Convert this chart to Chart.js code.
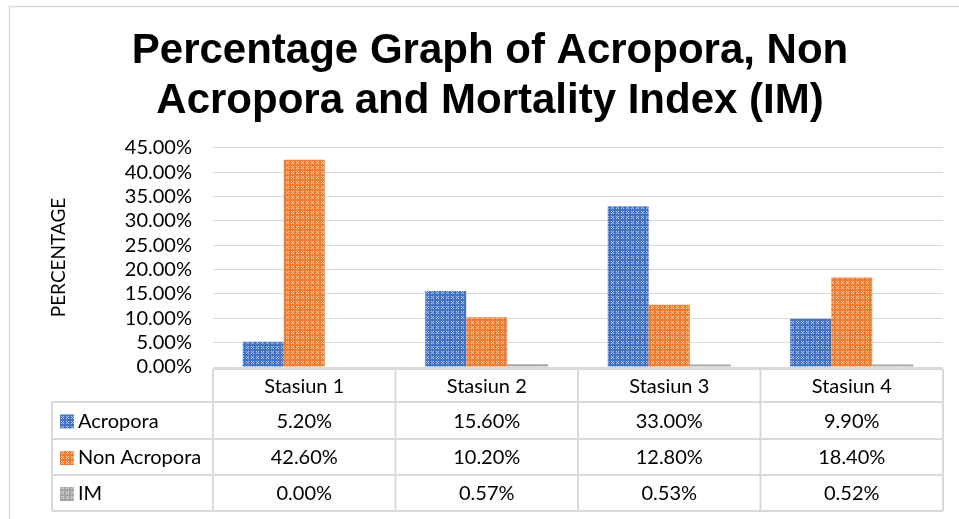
<!DOCTYPE html>
<html>
<head>
<meta charset="utf-8">
<script src="https://cdn.jsdelivr.net/npm/chart.js@4.4.1/dist/chart.umd.min.js"></script>
<style>
  html, body { margin: 0; padding: 0; background: #fff; }
</style>
</head>
<body>
<canvas id="chart" width="959" height="519"></canvas>
<script>
// Chart data
const categories = ['Stasiun 1', 'Stasiun 2', 'Stasiun 3', 'Stasiun 4'];
const seriesNames = ['Acropora', 'Non Acropora', 'IM'];
const acropora = [5.20, 15.60, 33.00, 9.90];
const nonAcropora = [42.60, 10.20, 12.80, 18.40];
const im = [0.00, 0.57, 0.53, 0.52];
const yMax = 45;
const yStep = 5;

const seriesColors = ['#4472c4', '#ed7d31', '#a5a5a5'];
const lineGray = '#d9d9d9';
const textFont = 'Lato, "Noto Sans", sans-serif';

// small plaid fill like the excel pattern
function makePattern(color) {
    const tile = document.createElement('canvas');
    tile.width = 5;
    tile.height = 5;
    const t = tile.getContext('2d');
    t.fillStyle = color;
    t.fillRect(0, 0, 5, 5);
    t.fillStyle = 'rgba(255,255,255,0.6)';
    [[1, 1], [3, 1], [2, 2], [1, 3], [3, 3]].forEach(p => t.fillRect(p[0], p[1], 1, 1));
    return t.createPattern(tile, 'repeat');
}
const fills = seriesColors.map(makePattern);

function pct(v) {
    return v.toFixed(2) + '%';
}

// outer frame of the chart box
const framePlugin = {
    id: 'frame',
    beforeDraw(chart) {
        const ctx = chart.ctx;
        ctx.save();
        ctx.strokeStyle = lineGray;
        ctx.lineWidth = 1.5;
        ctx.beginPath();
        ctx.moveTo(9.5, 519);
        ctx.lineTo(9.5, 6.5);
        ctx.lineTo(959, 6.5);
        ctx.stroke();
        ctx.restore();
    }
};

// data table under the plot, columns follow the x scale
const tablePlugin = {
    id: 'dataTable',
    afterDraw(chart) {
        const ctx = chart.ctx;
        const area = chart.chartArea;
        const xs = chart.scales.x;
        const colW = (area.right - area.left) / categories.length;
        const tableLeft = 52;
        const top = area.bottom + 2;
        const rows = [top, top + 33, top + 70, top + 106, top + 142];

        ctx.save();
        ctx.strokeStyle = lineGray;
        ctx.lineWidth = 2;
        ctx.beginPath();
        // header row (no cell over the label column)
        ctx.moveTo(area.left, rows[0]);
        ctx.lineTo(area.right, rows[0]);
        for (let r = 1; r < rows.length; r++) {
            ctx.moveTo(tableLeft, rows[r]);
            ctx.lineTo(area.right, rows[r]);
        }
        ctx.moveTo(tableLeft, rows[1]);
        ctx.lineTo(tableLeft, rows[4]);
        for (let i = 0; i <= categories.length; i++) {
            const x = area.left + i * colW;
            ctx.moveTo(x, rows[0]);
            ctx.lineTo(x, rows[4]);
        }
        ctx.stroke();

        ctx.fillStyle = '#000';
        ctx.font = '20px ' + textFont;
        ctx.textAlign = 'center';
        ctx.textBaseline = 'middle';
        categories.forEach((c, i) => {
            ctx.fillText(c, xs.getPixelForValue(i), (rows[0] + rows[1]) / 2 + 1);
        });

        chart.data.datasets.forEach((ds, r) => {
            const cy = (rows[r + 1] + rows[r + 2]) / 2 + 1;
            ctx.fillStyle = ds.backgroundColor;
            ctx.fillRect(60, cy - 7, 14, 14);
            ctx.fillStyle = '#000';
            ctx.textAlign = 'left';
            ctx.fillText(ds.label, 78, cy);
            ctx.textAlign = 'center';
            ds.data.forEach((v, i) => {
                ctx.fillText(pct(v), xs.getPixelForValue(i), cy);
            });
        });
        ctx.restore();
    }
};

const seriesData = [acropora, nonAcropora, im];

const chart = new Chart(document.getElementById('chart'), {
    type: 'bar',
    data: {
        labels: categories,
        datasets: seriesNames.map((name, i) => ({
            label: name,
            data: seriesData[i],
            backgroundColor: fills[i],
            borderWidth: 0,
            categoryPercentage: 0.674,
            barPercentage: 1.0
        }))
    },
    options: {
        responsive: false,
        animation: false,
        layout: {
            padding: { left: 37, right: 16, top: 0, bottom: 152 }
        },
        plugins: {
            legend: { display: false },
            tooltip: { enabled: false },
            title: {
                display: true,
                text: ['Percentage Graph of Acropora, Non', 'Acropora and Mortality Index (IM)'],
                color: '#000',
                font: { family: '"Liberation Sans", Arial, sans-serif', size: 42, weight: 'bold', lineHeight: 1.19 },
                padding: { top: 26, bottom: 22 }
            }
        },
        scales: {
            x: {
                display: false
            },
            y: {
                min: 0,
                max: yMax,
                afterFit(scale) {
                    scale.width = 176;
                },
                border: { display: false },
                grid: { color: lineGray, lineWidth: 1, drawTicks: false },
                ticks: {
                    stepSize: yStep,
                    autoSkip: false,
                    padding: 21,
                    color: '#000',
                    font: { family: textFont, size: 20 },
                    callback: (v) => pct(v)
                },
                title: {
                    display: true,
                    text: 'PERCENTAGE',
                    color: '#000',
                    font: { family: textFont, size: 19 },
                    padding: { top: 10, bottom: 0 }
                }
            }
        }
    },
    plugins: [framePlugin, tablePlugin]
});
</script>
</body>
</html>
